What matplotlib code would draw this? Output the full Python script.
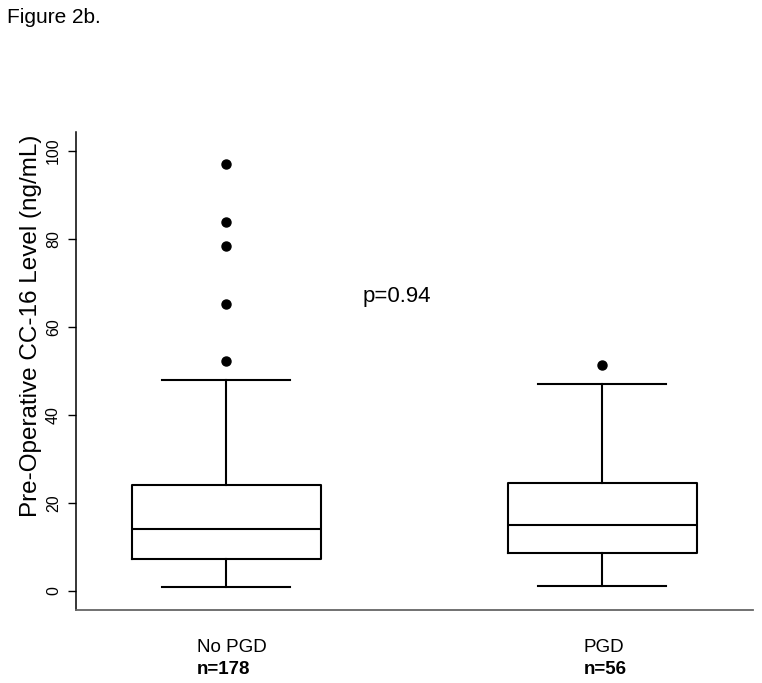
import matplotlib.pyplot as plt
from matplotlib.transforms import blended_transform_factory

plt.rcParams['font.family'] = ['Liberation Sans', 'DejaVu Sans']

# box summaries (ng/mL)
groups = ['No PGD', 'PGD']
counts = ['n=178', 'n=56']
whislo = [0.9, 1.0]
q1 = [7.3, 8.5]
med = [14.0, 14.9]
q3 = [24.1, 24.6]
whishi = [48.0, 47.0]
fliers = [[97.0, 83.8, 78.3, 65.2, 52.1], [51.2]]
p_text = 'p=0.94'

stats = []
for i in range(len(groups)):
    stats.append({'label': groups[i], 'whislo': whislo[i], 'q1': q1[i], 'med': med[i],
                  'q3': q3[i], 'whishi': whishi[i], 'fliers': fliers[i]})

fig = plt.figure(figsize=(7.62, 6.83), dpi=100)
ax = fig.add_axes([0.0997, 0.1072, 0.888, 0.7000])

lw = 1.5
ax.bxp(stats, positions=[1, 2], widths=0.502, capwidths=0.34,
       boxprops=dict(color='black', linewidth=lw),
       medianprops=dict(color='black', linewidth=lw),
       whiskerprops=dict(color='black', linewidth=lw, linestyle='-'),
       capprops=dict(color='black', linewidth=lw),
       flierprops=dict(marker='o', markerfacecolor='black', markeredgecolor='black',
                       markersize=6.5))

ax.set_xlim(0.6, 2.4)
ax.set_ylim(-4.3, 104.3)
ax.set_yticks([0, 20, 40, 60, 80, 100])
ax.set_yticklabels(['0', '20', '40', '60', '80', '100'], rotation=90, va='center',
                   fontsize=11.5)
ax.tick_params(axis='y', length=5.8, width=1.0, pad=5, colors='black')
ax.set_xticks([])
ax.spines['top'].set_visible(False)
ax.spines['right'].set_visible(False)
ax.spines['left'].set_linewidth(1.1)
ax.spines['bottom'].set_linewidth(1.3)
ax.spines['bottom'].set_color('#666666')

# y label sits higher than the axes centre in the original
fig.text(31 / 762, 1 - 326 / 683, 'Pre-Operative CC-16 Level (ng/mL)', fontsize=17.5,
         rotation=90, ha='center', va='center')

ax.text(1.454, 66.9, p_text, fontsize=16, ha='center', va='center')

trans = blended_transform_factory(ax.transData, fig.transFigure)
label_x = [0.921, 1.9495]
for i in range(len(groups)):
    ax.text(label_x[i], 0.0454, groups[i], transform=trans, fontsize=13.5,
            ha='left', va='baseline')
    ax.text(label_x[i], 0.0132, counts[i], transform=trans, fontsize=13.5,
            fontweight='bold', ha='left', va='baseline')

fig.text(0.0092, 1 - 23 / 683, 'Figure 2b.', fontsize=15, ha='left', va='baseline')

fig.savefig('out.png', dpi=100)
